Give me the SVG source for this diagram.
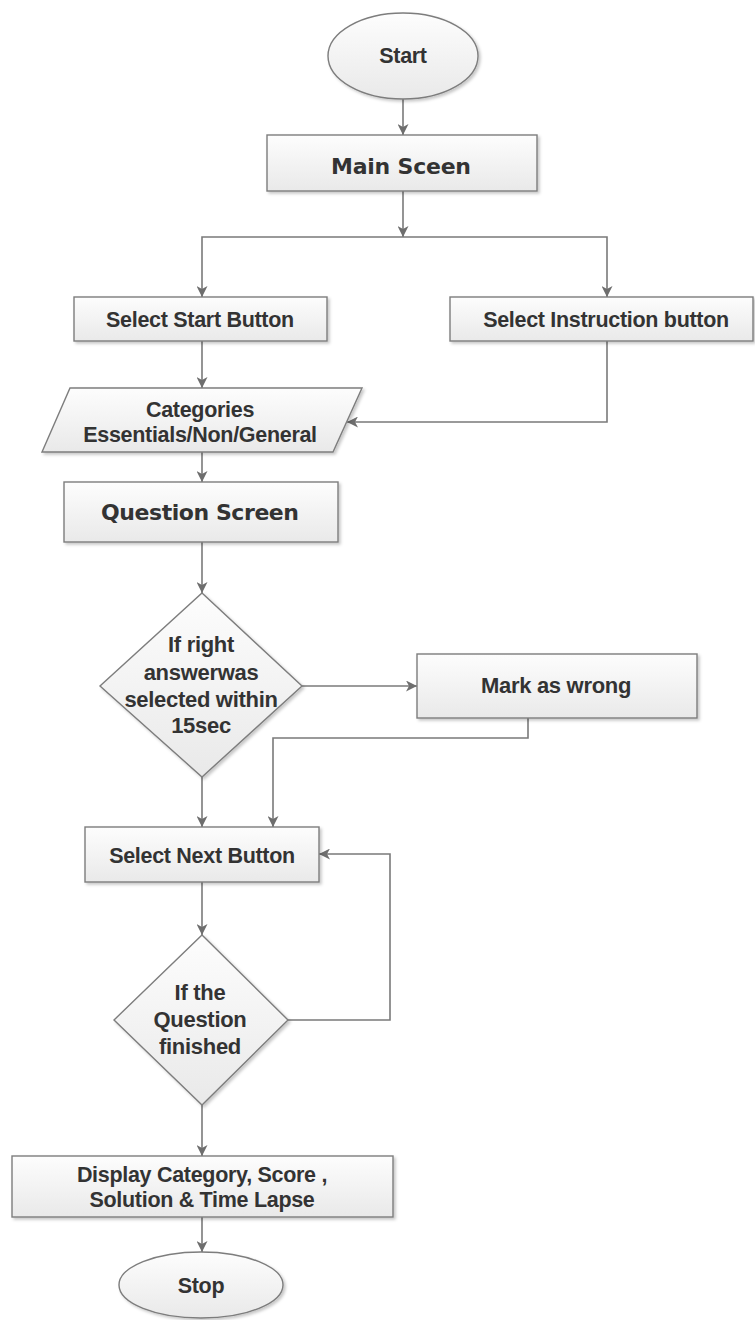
<svg xmlns="http://www.w3.org/2000/svg" width="755" height="1320" viewBox="0 0 755 1320">
<defs>
  <linearGradient id="g" x1="0" y1="0" x2="0" y2="1">
    <stop offset="0" stop-color="#fdfdfd"/>
    <stop offset="1" stop-color="#e9e9e9"/>
  </linearGradient>
  <filter id="sh" x="-10%" y="-10%" width="125%" height="130%">
    <feDropShadow dx="2" dy="2" stdDeviation="1.5" flood-color="#000" flood-opacity="0.22"/>
  </filter>
  <marker id="ah" markerUnits="userSpaceOnUse" markerWidth="12" markerHeight="11" refX="11" refY="5.5" orient="auto">
    <path d="M0,0 L11,5.5 L0,11 L3,5.5 z" fill="#6e6e6e"/>
  </marker>
  <style>
    .n{fill:url(#g);stroke:#7d7d7d;stroke-width:1.4;filter:url(#sh)}
    .t{font-family:"Liberation Sans",Arial,sans-serif;font-weight:bold;font-size:21.5px;fill:#333;text-anchor:middle;letter-spacing:-0.3px}
    .d{font-size:22px}
    .v{font-family:"DejaVu Sans",Verdana,sans-serif;font-weight:bold;font-size:22px;fill:#333;text-anchor:middle}
    .c{fill:none;stroke:#7a7a7a;stroke-width:1.6;marker-end:url(#ah)}
    .l{fill:none;stroke:#7a7a7a;stroke-width:1.6}
  </style>
</defs>
<rect width="755" height="1320" fill="#fff"/>
<g id="connectors">
  <path class="c" d="M403,99 V135"/>
  <path class="c" d="M403,191 V237"/>
  <path class="c" d="M403,237 H202 V297"/>
  <path class="c" d="M403,237 H607 V297"/>
  <path class="c" d="M202,341 V388"/>
  <path class="c" d="M607,341 V422 H347"/>
  <path class="c" d="M202,452 V482"/>
  <path class="c" d="M202,542 V593"/>
  <path class="c" d="M302,686 H417"/>
  <path class="c" d="M528,718 V738 H273 V827"/>
  <path class="c" d="M202,777 V827"/>
  <path class="c" d="M202,882 V935"/>
  <path class="c" d="M288,1020 H390 V854 H319"/>
  <path class="c" d="M202,1105 V1156"/>
  <path class="c" d="M202,1217 V1252"/>
</g>
<g id="start">
  <ellipse class="n" cx="403" cy="56" rx="75" ry="43"/>
  <text class="t" x="403" y="63">Start</text>
</g>
<g id="main">
  <rect class="n" x="267" y="135" width="270" height="56"/>
  <text class="v" x="401" y="174" textLength="140" lengthAdjust="spacing">Main Sceen</text>
</g>
<g id="selectStart">
  <rect class="n" x="74" y="297" width="253" height="44"/>
  <text class="t" x="200" y="327">Select Start Button</text>
</g>
<g id="selectInstruction">
  <rect class="n" x="450" y="297" width="303" height="44"/>
  <text class="t" x="606" y="327">Select Instruction button</text>
</g>
<g id="categories">
  <polygon class="n" points="70,388 362,388 333,452 42,452"/>
  <text class="t" x="200" y="417">Categories</text>
  <text class="t" x="200" y="442">Essentials/Non/General</text>
</g>
<g id="question">
  <rect class="n" x="64" y="482" width="274" height="60"/>
  <text class="v" x="200" y="520" textLength="198" lengthAdjust="spacing">Question Screen</text>
</g>
<g id="decision1">
  <polygon class="n" points="202,593 302,686 202,777 100,686"/>
  <text class="t d" x="201" y="652">If right</text>
  <text class="t d" x="201" y="680">answerwas</text>
  <text class="t d" x="201" y="707">selected within</text>
  <text class="t d" x="201" y="733">15sec</text>
</g>
<g id="markWrong">
  <rect class="n" x="417" y="654" width="280" height="64"/>
  <text class="t d" x="556" y="693">Mark as wrong</text>
</g>
<g id="selectNext">
  <rect class="n" x="85" y="827" width="234" height="55"/>
  <text class="t" x="202" y="863">Select Next Button</text>
</g>
<g id="decision2">
  <polygon class="n" points="202,935 288,1020 202,1105 114,1020"/>
  <text class="t d" x="200" y="1000">If the</text>
  <text class="t d" x="200" y="1027">Question</text>
  <text class="t d" x="200" y="1054">finished</text>
</g>
<g id="display">
  <rect class="n" x="12" y="1156" width="381" height="61"/>
  <text class="t" x="202" y="1182">Display Category, Score ,</text>
  <text class="t" x="202" y="1207">Solution &amp; Time Lapse</text>
</g>
<g id="stop">
  <ellipse class="n" cx="201" cy="1285" rx="82" ry="33"/>
  <text class="t" x="201" y="1293">Stop</text>
</g>
</svg>
